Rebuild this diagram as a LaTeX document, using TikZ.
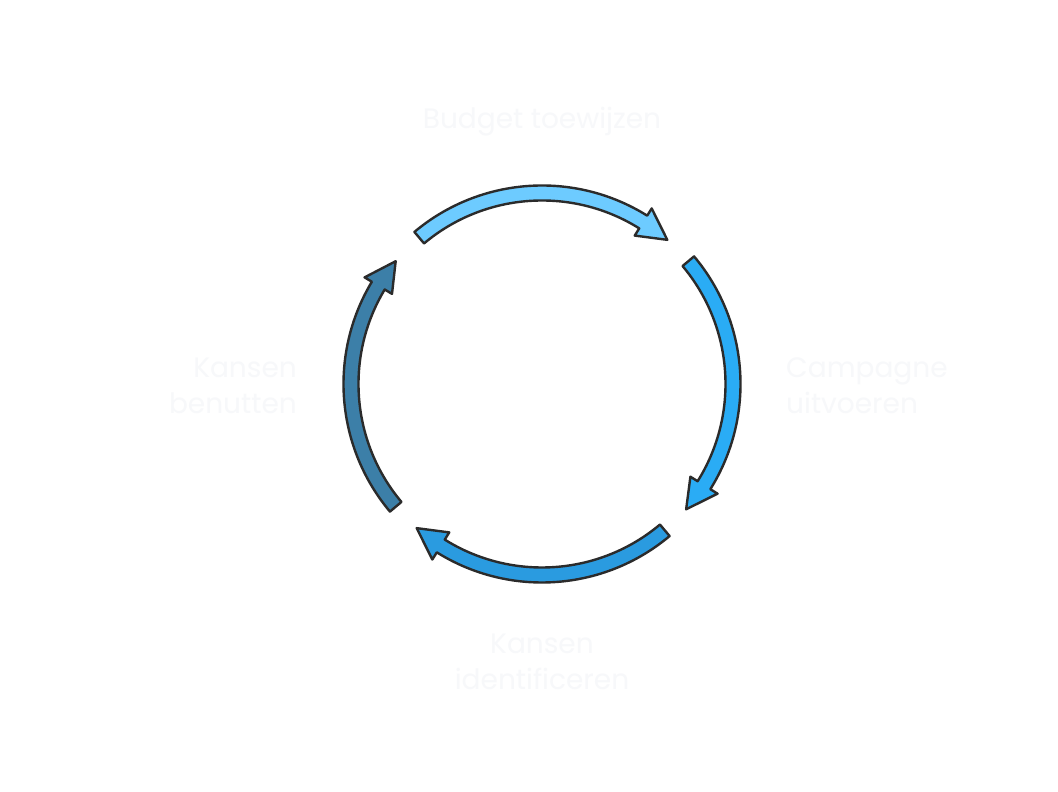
\documentclass[tikz,border=0pt]{standalone}
\usepackage{fontspec}
\setmainfont{Poppins}
\definecolor{lbl}{HTML}{F7F8FA}
\definecolor{edge}{HTML}{2B2B2B}
\definecolor{cA}{HTML}{6DCBFF}
\definecolor{cB}{HTML}{2AACF5}
\definecolor{cC}{HTML}{2A9BE0}
\definecolor{cD}{HTML}{3C7FA8}
\tikzset{lab/.style={text=lbl,font=\fontsize{28}{36}\selectfont,align=center,inner sep=0pt},
 seg/.style={draw=edge,line width=2.4pt,line join=round}}
\newcommand{\arrseg}[3]{%
 \filldraw[seg,fill=#3] ([shift={(542,408)}]#1:198.5) arc[start angle=#1,end angle=#2+9,radius=198.5]
 -- ([shift={(542,408)}]#2+9:207) -- ([shift={(542,408)}]#2:191) -- ([shift={(542,408)}]#2+9:175)
 -- ([shift={(542,408)}]#2+9:183.5) arc[start angle=#2+9,end angle=#1,radius=183.5] -- cycle;}
\begin{document}
\begin{tikzpicture}[x=1pt,y=1pt]
\useasboundingbox[fill=white] (0,0) rectangle (1058,792);
\arrseg{130}{49}{cA}
\arrseg{40}{-41}{cB}
\arrseg{-50}{-131}{cC}
\arrseg{220}{140}{cD}
\node[lab] (t) at (542,670) {Budget toewijzen};
\node[lab,anchor=west,align=left] (r) at (786,406) {Campagne\\uitvoeren};
\node[lab] (b) at (542,130) {Kansen\\identificeren};
\node[lab,anchor=east,align=right] (l) at (297,406) {Kansen\\benutten};
\end{tikzpicture}
\end{document}
